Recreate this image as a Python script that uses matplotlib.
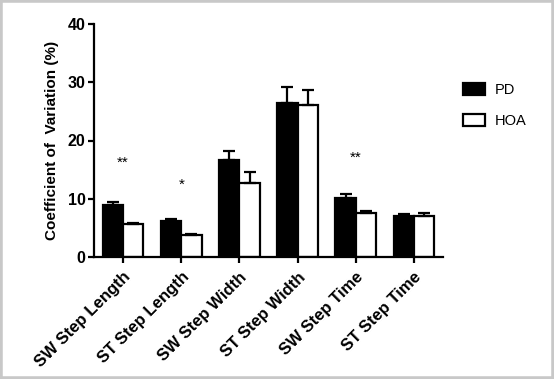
import matplotlib.pyplot as plt
import numpy as np
from matplotlib.patches import Rectangle

plt.rcParams['font.family'] = ['Liberation Sans', 'DejaVu Sans']

categories = ["SW Step Length", "ST Step Length", "SW Step Width",
              "ST Step Width", "SW Step Time", "ST Step Time"]
pd_mean = [8.9, 6.1, 16.6, 26.5, 10.1, 7.0]
pd_err = [0.6, 0.5, 1.6, 2.6, 0.7, 0.4]
hoa_mean = [5.6, 3.8, 12.7, 26.1, 7.5, 7.0]
hoa_err = [0.3, 0.2, 1.9, 2.5, 0.4, 0.6]
# significance markers (group index, text, y position)
sig_groups = [0, 1, 4]
sig_text = ["**", "*", "**"]
sig_y = [15.0, 11.2, 15.8]

fig = plt.figure(figsize=(5.54, 3.79), dpi=100)
ax = fig.add_axes([94 / 554, 122 / 379, 349 / 554, 233 / 379])

x = np.arange(len(categories))
w = 0.35
lw = 1.6
ax.bar(x - w / 2, pd_mean, w, color="black", edgecolor="black", linewidth=lw,
       label="PD", zorder=2)
ax.bar(x + w / 2, hoa_mean, w, color="white", edgecolor="black", linewidth=lw,
       label="HOA", zorder=2)
ax.errorbar(x - w / 2, pd_mean, yerr=[np.zeros(6), pd_err], fmt="none",
            ecolor="black", elinewidth=lw, capsize=4, capthick=lw, zorder=3)
ax.errorbar(x + w / 2, hoa_mean, yerr=[np.zeros(6), hoa_err], fmt="none",
            ecolor="black", elinewidth=lw, capsize=4, capthick=lw, zorder=3)

for g, t, yy in zip(sig_groups, sig_text, sig_y):
    ax.text(x[g], yy, t, ha="center", va="bottom", fontsize=11)

ax.set_xlim(-0.5, 5.5)
ax.set_ylim(0, 40)
ax.set_yticks([0, 10, 20, 30, 40])
ax.set_xticks(x)
ax.set_xticklabels(categories, rotation=45, ha="right", rotation_mode="anchor",
                   fontsize=12, fontweight="bold")
for lab in ax.get_yticklabels():
    lab.set_fontweight("bold")
    lab.set_fontsize(11.5)
ax.set_ylabel("Coefficient of  Variation (%)", fontsize=11, fontweight="bold")
ax.yaxis.set_label_coords(-0.10, 0.5)

for s in ["top", "right"]:
    ax.spines[s].set_visible(False)
for s in ["left", "bottom"]:
    ax.spines[s].set_linewidth(1.6)
ax.tick_params(width=1.6, length=4, pad=2)
ax.tick_params(axis="x", pad=5)

leg = fig.legend(loc="upper left", bbox_to_anchor=(450 / 554, 1 - 70 / 379),
                 frameon=False, fontsize=10.5, handlelength=1.5, handleheight=0.9,
                 labelspacing=1.15, handletextpad=0.7)

# gray frame around the picture
fig.patches.append(Rectangle((0, 0), 1, 1, transform=fig.transFigure,
                             fill=False, edgecolor="#c8c8c8", linewidth=4))

fig.savefig("out.png", dpi=100)
